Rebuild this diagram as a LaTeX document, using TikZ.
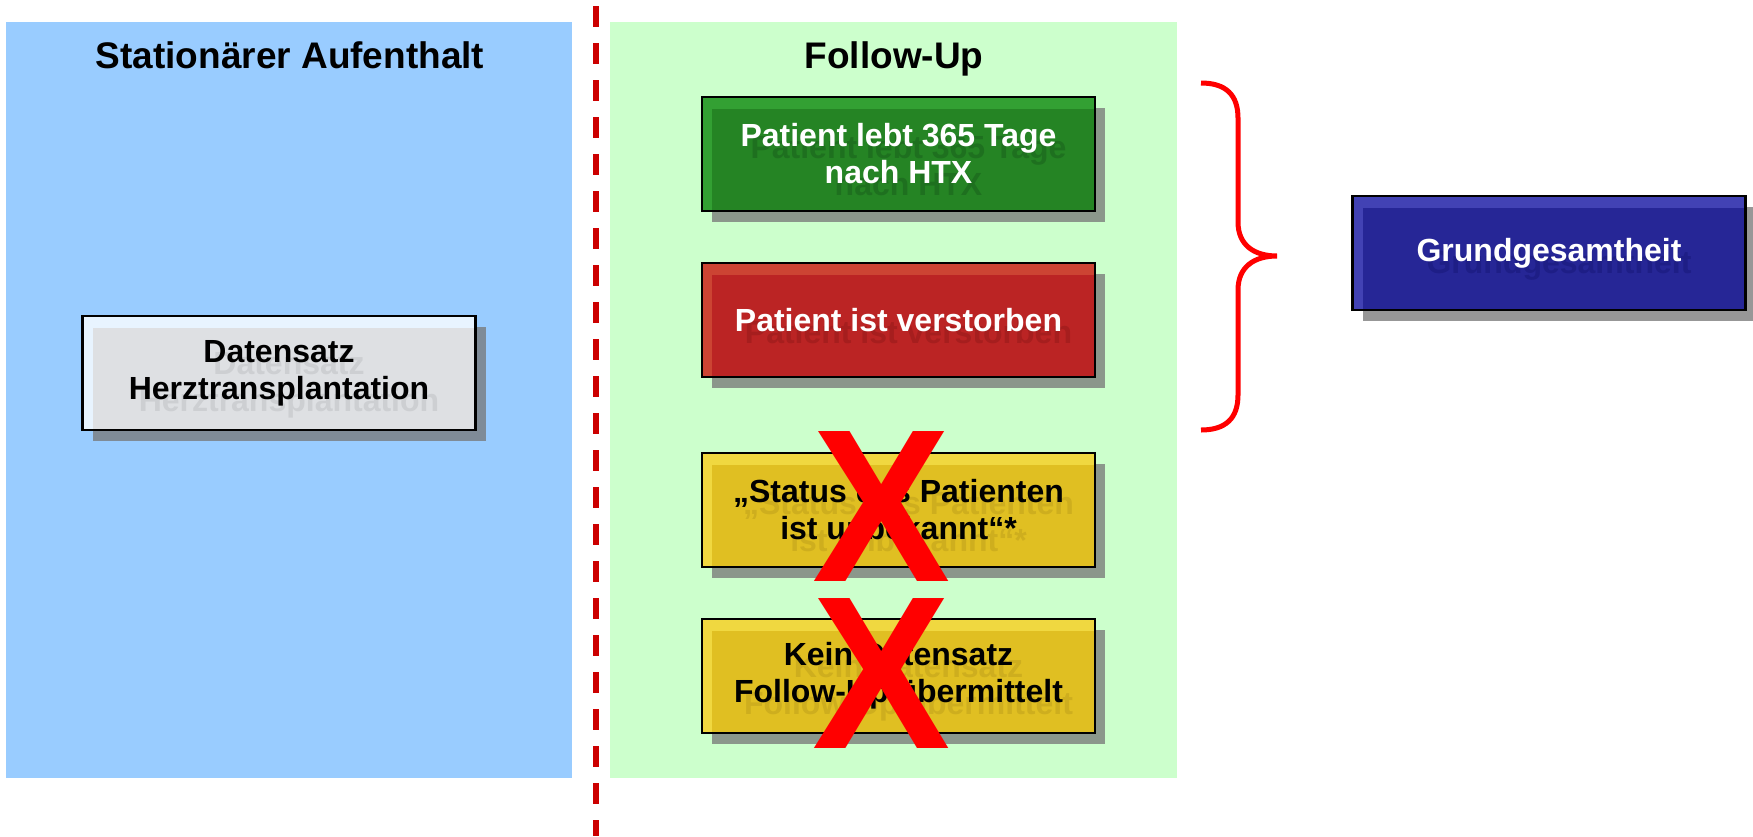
\documentclass[tikz,border=0pt]{standalone}
\usepackage{fontspec}
\setmainfont{Liberation Sans}
\usetikzlibrary{calc}
\pgfdeclarelayer{bg}
\pgfsetlayers{bg,main}
\definecolor{panelblue}{RGB}{153,204,255}
\definecolor{panelgreen}{RGB}{204,255,204}
\definecolor{dashc}{RGB}{204,0,0}
\definecolor{shadowc}{RGB}{120,120,120}
\definecolor{gmain}{RGB}{37,132,36}
\definecolor{glight}{RGB}{51,160,51}
\definecolor{gghost}{RGB}{30,112,31}
\definecolor{rmain}{RGB}{187,36,36}
\definecolor{rlight}{RGB}{204,68,51}
\definecolor{rghost}{RGB}{166,30,30}
\definecolor{ymain}{RGB}{224,191,34}
\definecolor{ylight}{RGB}{240,216,64}
\definecolor{yghost}{RGB}{206,174,30}
\definecolor{wmain}{RGB}{222,224,227}
\definecolor{wlight}{RGB}{232,244,255}
\definecolor{wghost}{RGB}{205,207,210}
\definecolor{bmain}{RGB}{38,38,150}
\definecolor{blight}{RGB}{66,66,180}
\definecolor{bghost}{RGB}{30,30,134}
\tikzset{
  tbox/.style={draw=black, line width=2.5pt, rectangle, minimum width=393pt, minimum height=114pt,
    inner sep=0pt, outer sep=0pt, align=center, font=\fontsize{32}{37}\selectfont\bfseries},
  ghosttext/.style={inner sep=0pt, align=center, font=\fontsize{32}{37}\selectfont\bfseries},
  title/.style={anchor=base, inner sep=0pt, font=\fontsize{37}{40}\selectfont\bfseries},
  xmark/.style={inner sep=0pt, text=red, font=\fontsize{218}{218}\selectfont\bfseries},
  shadowfill/.style={fill=shadowc, fill opacity=0.77},
}
\newcommand{\threedbox}[7]{%
  \node[tbox, text=#6] (#1) at (#2) {#7};
  \begin{pgfonlayer}{bg}
    \fill[shadowfill] ([shift={(10,11)}]#1.north west) rectangle ([shift={(10,11)}]#1.south east);
    \fill[#3] (#1.north west) rectangle (#1.south east);
    \fill[#4] ([shift={(10,12)}]#1.north west) rectangle (#1.south east);
    \node[ghosttext, text=#5] at ([shift={(10,12)}]#1.center) {#7};
  \end{pgfonlayer}}
\begin{document}
\begin{tikzpicture}[x=1pt,y=-1pt]
\useasboundingbox (0,0) rectangle (1753,836);
\begin{pgfonlayer}{bg}
  \fill[white] (0,0) rectangle (1753,836);
  \fill[panelblue] (5.6,22) rectangle (572,778);
  \fill[panelgreen] (610,22) rectangle (1177,778);
\end{pgfonlayer}
\node[title] (t1) at (290,68) {Stationärer Aufenthalt};
\node[title] (t2) at (894,68) {Follow-Up};
\coordinate (dtop) at (596,6);
\coordinate (dbot) at (596,836);
\draw[dashc, line width=6pt, dash pattern=on 21pt off 16pt] (dtop) -- (dbot);

\threedbox{hx}{279,373}{wlight}{wmain}{wghost}{black}{Datensatz\\Herztransplantation}
\threedbox{live}{898.5,154}{glight}{gmain}{gghost}{white}{Patient lebt 365 Tage\\nach HTX}
\threedbox{dead}{898.5,320}{rlight}{rmain}{rghost}{white}{Patient ist verstorben}
\threedbox{unk}{898.5,510}{ylight}{ymain}{yghost}{black}{„Status des Patienten\\ist unbekannt“*}
\threedbox{nofu}{898.5,676}{ylight}{ymain}{yghost}{black}{Kein Datensatz\\Follow-Up übermittelt}
\threedbox{gg}{1549,253}{blight}{bmain}{bghost}{white}{Grundgesamtheit}

\node[xmark] (x1) at (882,506) {\scalebox{0.95}[1]{X}};
\node[xmark] (x2) at (882,673) {\scalebox{0.95}[1]{X}};

\draw[red, line width=5pt] (1201,83) .. controls (1226,83) and (1238,95) .. (1238,118)
  -- (1238,222) .. controls (1238,245) and (1254,256) .. (1277,256)
  .. controls (1254,256) and (1238,267) .. (1238,290)
  -- (1238,395) .. controls (1238,418) and (1226,430) .. (1201,430);
\end{tikzpicture}
\end{document}
